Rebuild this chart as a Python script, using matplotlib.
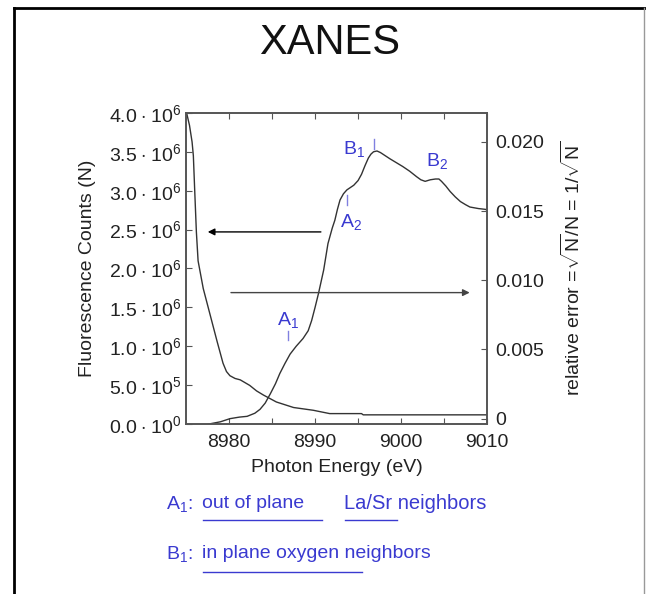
import matplotlib.pyplot as plt
from matplotlib.lines import Line2D

plt.rcParams['font.family'] = ['Liberation Sans', 'DejaVu Sans']
plt.rcParams['mathtext.fontset'] = 'custom'
plt.rcParams['mathtext.rm'] = 'Liberation Sans'
plt.rcParams['mathtext.it'] = 'Liberation Sans:italic'
plt.rcParams['mathtext.bf'] = 'Liberation Sans:bold'

# XANES spectrum (fluorescence counts, left axis)
energy_n = [8977.6, 8979.0, 8980.1, 8981.2, 8982.1, 8983.0, 8983.6, 8984.2, 8984.8,
            8985.4, 8985.9, 8986.5, 8987.1, 8987.8, 8988.6, 8989.2, 8989.6, 8990.0,
            8990.4, 8991.0, 8991.5, 8992.0, 8992.3, 8992.6, 8992.9, 8993.3, 8993.7,
            8994.5, 8995.0, 8995.4, 8995.8, 8996.2, 8996.5, 8996.8, 8997.2, 8997.6,
            8998.7, 9000.2, 9001.0, 9001.8, 9002.3, 9002.8, 9003.4, 9004.0, 9004.4,
            9004.7, 9005.2, 9005.7, 9006.3, 9006.9, 9007.5, 9008.0, 9009.0, 9009.8,
            9010.0]
counts = [0.0, 0.03e6, 0.07e6, 0.09e6, 0.10e6, 0.14e6, 0.19e6, 0.27e6, 0.39e6,
          0.52e6, 0.65e6, 0.78e6, 0.90e6, 1.00e6, 1.10e6, 1.20e6, 1.33e6, 1.50e6,
          1.68e6, 1.98e6, 2.32e6, 2.52e6, 2.62e6, 2.76e6, 2.88e6, 2.96e6, 3.01e6,
          3.07e6, 3.13e6, 3.21e6, 3.32e6, 3.42e6, 3.47e6, 3.50e6, 3.51e6, 3.49e6,
          3.41e6, 3.31e6, 3.25e6, 3.18e6, 3.14e6, 3.12e6, 3.14e6, 3.15e6, 3.15e6,
          3.12e6, 3.06e6, 2.99e6, 2.92e6, 2.86e6, 2.82e6, 2.79e6, 2.77e6, 2.76e6,
          2.75e6]

# relative error (right axis)
energy_e = [8975.1, 8975.4, 8975.7, 8975.85, 8976.0, 8976.2, 8976.4, 8977.0, 8977.8,
            8978.6, 8979.3, 8979.7, 8980.1, 8980.7, 8981.3, 8982.4, 8983.2, 8984.0,
            8985.5, 8987.5, 8989.8, 8991.7, 8995.4, 8995.6, 9010.0]
rel_err = [0.0220, 0.0212, 0.0200, 0.0190, 0.0166, 0.0135, 0.0114, 0.0094, 0.0075,
           0.0056, 0.0040, 0.0034, 0.0031, 0.0029, 0.0028, 0.0024, 0.0020, 0.0017,
           0.0012, 0.0008, 0.0006, 0.00036, 0.00036, 0.00027, 0.00027]

left_ticks = [0, 0.5e6, 1.0e6, 1.5e6, 2.0e6, 2.5e6, 3.0e6, 3.5e6, 4.0e6]
left_labels = [r'0.0$\hspace{0.08}\cdot\hspace{0.08}$10$^{0}$',
               r'5.0$\hspace{0.08}\cdot\hspace{0.08}$10$^{5}$',
               r'1.0$\hspace{0.08}\cdot\hspace{0.08}$10$^{6}$',
               r'1.5$\hspace{0.08}\cdot\hspace{0.08}$10$^{6}$',
               r'2.0$\hspace{0.08}\cdot\hspace{0.08}$10$^{6}$',
               r'2.5$\hspace{0.08}\cdot\hspace{0.08}$10$^{6}$',
               r'3.0$\hspace{0.08}\cdot\hspace{0.08}$10$^{6}$',
               r'3.5$\hspace{0.08}\cdot\hspace{0.08}$10$^{6}$',
               r'4.0$\hspace{0.08}\cdot\hspace{0.08}$10$^{6}$']
right_ticks = [0, 0.005, 0.010, 0.015, 0.020]
right_labels = ['0', '0.005', '0.010', '0.015', '0.020']
x_ticks = [8980, 8985, 8990, 8995, 9000, 9005, 9010]
x_labels = ['8980', '', '8990', '', '9000', '', '9010']

blue = '#3a3ad0'
ink = '#333333'
fs = 14

fig = plt.figure(figsize=(6.46, 5.94), dpi=100)
ax = fig.add_axes([0.288, 0.286, 0.466, 0.524])
ax2 = ax.twinx()

ax.plot(energy_n, counts, color=ink, lw=1.0)
ax2.plot(energy_e, rel_err, color=ink, lw=1.0)

ax.set_xlim(8975, 9010)
ax.set_ylim(0, 4.0e6)
ax2.set_ylim(-0.0004, 0.0221)

ax.set_xticks(x_ticks)
ax.set_xticklabels(x_labels)
ax.set_yticks(left_ticks)
ax.set_yticklabels(left_labels)
ax2.set_yticks(right_ticks)
ax2.set_yticklabels(right_labels)

ax.tick_params(axis='x', direction='in', labelsize=fs, length=4, color='#555555',
               top=True, labelcolor='#222222', pad=7)
ax.tick_params(axis='y', direction='in', labelsize=fs, length=4, color='#555555',
               labelcolor='#222222', pad=3)
ax2.tick_params(axis='y', direction='in', labelsize=fs, length=4, color='#555555',
                labelcolor='#222222', pad=6)
for a in (ax, ax2):
    for s in a.spines.values():
        s.set_color('#555555')
        s.set_linewidth(1.2)

ax.set_xlabel('Photon Energy (eV)', fontsize=fs, color='#222222', labelpad=6)
ax.set_ylabel('Fluorescence Counts (N)', fontsize=fs, color='#222222', labelpad=10)
ax2.set_ylabel(r'relative error =$\sqrt{\mathrm{N}}$/N = 1/$\sqrt{\mathrm{N}}$',
               fontsize=fs, color='#222222', labelpad=12)

# arrows showing which axis each curve belongs to
ax.annotate('', xy=(8977.2, 2.47e6), xytext=(8991.0, 2.47e6),
            arrowprops=dict(arrowstyle='-|>', color='black', lw=1.0, mutation_scale=10))
ax.annotate('', xy=(9008.3, 1.69e6), xytext=(8979.9, 1.69e6),
            arrowprops=dict(arrowstyle='-|>', color='#444444', lw=1.0, mutation_scale=10))

# peak labels
ax.text(8994.5, 3.53e6, r'B$_1$', color=blue, fontsize=fs, ha='center', va='center')
ax.text(9004.2, 3.38e6, r'B$_2$', color=blue, fontsize=fs, ha='center', va='center')
ax.text(8994.2, 2.60e6, r'A$_2$', color=blue, fontsize=fs, ha='center', va='center')
ax.text(8986.8, 1.34e6, r'A$_1$', color=blue, fontsize=fs, ha='center', va='center')
for xm, ym in [(8996.9, 3.60e6), (8993.7, 2.88e6), (8986.9, 1.14e6)]:
    ax.plot([xm, xm], [ym - 0.06e6, ym + 0.06e6], color='#8080e0', lw=1.0)

fig.text(0.51, 0.927, 'XANES', fontsize=30, ha='center', va='center', color='#111111')

fig.text(0.257, 0.152, r'A$_1$:', color=blue, fontsize=fs, va='center')
fig.text(0.313, 0.152, 'out of plane', color=blue, fontsize=fs, va='center')
fig.text(0.533, 0.152, 'La/Sr neighbors', color=blue, fontsize=14.5, va='center')
fig.text(0.257, 0.068, r'B$_1$:', color=blue, fontsize=fs, va='center')
fig.text(0.313, 0.068, 'in plane oxygen neighbors', color=blue, fontsize=fs, va='center')
fig.add_artist(Line2D([0.314, 0.498], [0.124, 0.124], color=blue, lw=1.0))
fig.add_artist(Line2D([0.534, 0.615], [0.124, 0.124], color=blue, lw=1.0))
fig.add_artist(Line2D([0.314, 0.560], [0.037, 0.037], color=blue, lw=1.0))

# slide frame
fig.add_artist(Line2D([0.021, 0.021], [0.0, 0.986], color='black', lw=2.0))
fig.add_artist(Line2D([0.021, 1.0], [0.986, 0.986], color='black', lw=2.0))
fig.add_artist(Line2D([0.997, 0.997], [0.0, 0.986], color='#999999', lw=1.0))

fig.savefig('out.png', dpi=100)
